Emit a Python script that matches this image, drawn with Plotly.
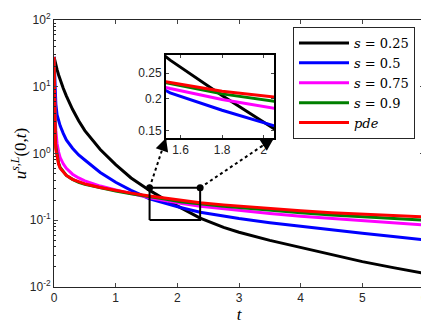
import numpy as np
import plotly.graph_objects as go

t = [0, 0.01, 0.02, 0.03, 0.05, 0.075, 0.1, 0.15, 0.2, 0.3, 0.4, 0.5, 0.75, 1.0, 1.25,
     1.55, 1.8, 2.05, 2.37, 2.75, 3.0, 3.5, 4.0, 4.5, 5.0, 5.5, 6.0]

u_s025 = [28, 25, 23, 21, 18, 15, 12.5, 9.5, 7.3, 4.6, 3.1, 2.2, 1.15, 0.68, 0.43,
          0.28, 0.205, 0.153, 0.108, 0.078, 0.066, 0.05, 0.039, 0.031, 0.024, 0.0195, 0.016]
u_s05 = [28, 12, 7.5, 5.5, 3.8, 3.0, 2.6, 2.0, 1.6, 1.2, 0.95, 0.8, 0.52, 0.37, 0.28,
         0.21, 0.18, 0.155, 0.132, 0.115, 0.106, 0.092, 0.081, 0.072, 0.064, 0.057, 0.051]
u_s075 = [28, 6, 3.2, 2.2, 1.4, 1.05, 0.87, 0.7, 0.6, 0.49, 0.43, 0.39, 0.325, 0.285, 0.25,
          0.218, 0.198, 0.179, 0.162, 0.148, 0.14, 0.126, 0.115, 0.106, 0.098, 0.091, 0.085]
u_s09 = [28, 3.5, 1.8, 1.25, 0.9, 0.72, 0.62, 0.53, 0.47, 0.41, 0.37, 0.345, 0.305, 0.275, 0.25,
         0.228, 0.208, 0.19, 0.175, 0.162, 0.155, 0.14, 0.129, 0.12, 0.112, 0.106, 0.1]
u_pde = [28, 3.0, 1.6, 1.15, 0.85, 0.69, 0.6, 0.52, 0.47, 0.41, 0.375, 0.35, 0.31, 0.28, 0.255,
         0.23, 0.213, 0.197, 0.183, 0.17, 0.163, 0.15, 0.139, 0.13, 0.123, 0.117, 0.112]

series = [
    ("<i>s</i> = 0.25", u_s025, "#000000"),
    ("<i>s</i> = 0.5", u_s05, "#0000FF"),
    ("<i>s</i> = 0.75", u_s075, "#FF00FF"),
    ("<i>s</i> = 0.9", u_s09, "#008000"),
    ("<i>pde</i>", u_pde, "#FF0000"),
]

x_ticks = [0, 1, 2, 3, 4, 5, 6]
x_ticktext = ["0", "1", "2", "3", "4", "5", "6"]
y_ticks = [0.01, 0.1, 1, 10, 100]
y_ticktext = ["10<sup>-2</sup>", "10<sup>-1</sup>", "10<sup>0</sup>", "10<sup>1</sup>", "10<sup>2</sup>"]
inset_xticks = [1.6, 1.8, 2.0]
inset_xtext = ["1.6", "1.8", "2"]
inset_yticks = [0.15, 0.2, 0.25]
inset_ytext = ["0.15", "0.2", "0.25"]

# zoom box on main axes and inset ranges
box_t = [1.55, 2.37]
box_u = [0.101, 0.307]
inset_xrange = [1.53, 2.05]
inset_urange = [0.141, 0.293]

minor_vals = [m * 10.0 ** e for e in range(-2, 2) for m in range(2, 10)]

fig = go.Figure()
for name, ys, col in series:
    fig.add_trace(go.Scatter(x=t, y=ys, mode="lines", name=name,
                             line=dict(color=col, width=3), xaxis="x", yaxis="y"))

# zoom rectangle and its corner dots
fig.add_trace(go.Scatter(x=[box_t[0], box_t[1], box_t[1], box_t[0], box_t[0]],
                         y=[box_u[0], box_u[0], box_u[1], box_u[1], box_u[0]],
                         mode="lines", showlegend=False, line=dict(color="black", width=2),
                         xaxis="x", yaxis="y"))
fig.add_trace(go.Scatter(x=box_t, y=[box_u[1], box_u[1]], mode="markers", showlegend=False,
                         marker=dict(color="black", size=7), xaxis="x", yaxis="y"))

for name, ys, col in series:
    fig.add_trace(go.Scatter(x=t, y=ys, mode="lines", name=name, showlegend=False,
                             line=dict(color=col, width=3), xaxis="x2", yaxis="y2"))

axis_font = dict(family="Liberation Sans, Arial, sans-serif", size=12, color="#262626")
# page offset of the plot div (browser body margin)
OFF = 8
W, H = 429 - OFF, 333 - OFF
# desired plot area in page pixels
PX0, PX1, PY0, PY1 = 54, 424, 20, 287
L, T = PX0 - OFF, PY0 - OFF
R = (W + OFF) - PX1
B = (H + OFF) - PY1
pw, ph = PX1 - PX0, PY1 - PY0

# inset position in paper coords
ix0, ix1 = (166 - PX0) / pw, (274 - PX0) / pw
iy0, iy1 = (PY1 - 138) / ph, (PY1 - 55) / ph

fig.update_layout(
    width=W, height=H,
    margin=dict(l=L, r=R, t=T, b=B, autoexpand=False),
    paper_bgcolor="white", plot_bgcolor="white",
    showlegend=True,
    legend=dict(x=(293 - PX0) / pw, y=(PY1 - 27) / ph, xanchor="left", yanchor="top",
                bgcolor="white", bordercolor="#262626", borderwidth=1,
                font=dict(family="DejaVu Serif, serif", size=13, color="black"),
                itemwidth=50, tracegroupgap=0),
    xaxis=dict(domain=[0, 1], range=[0, 6.0001], tickvals=x_ticks, ticktext=x_ticktext,
               ticks="inside", ticklen=4,
               showline=True, linecolor="#262626", linewidth=1, mirror="ticks",
               showgrid=False, zeroline=False, tickfont=axis_font, automargin=False,
               ticklabeloverflow="allow",
               title=dict(text="<i>t</i>", font=dict(family="Liberation Serif, serif", size=17, color="black"),
                          standoff=2)),
    yaxis=dict(domain=[0, 1], type="log", range=[-2, 2], tickvals=y_ticks, ticktext=y_ticktext,
               ticks="inside", ticklen=4, showline=True, linecolor="#262626", linewidth=1,
               mirror="ticks", showgrid=False, zeroline=False, tickfont=axis_font, automargin=False,
               ticklabeloverflow="allow",
               minor=dict(tickvals=minor_vals, ticks="inside", ticklen=2, tickcolor="#262626", showgrid=False),
               title=dict(text="<i>u</i><sup><i>s,L</i></sup>(0,<i>t</i>)",
                          font=dict(family="Liberation Serif, serif", size=17, color="black"),
                          standoff=2)),
    xaxis2=dict(domain=[ix0, ix1], anchor="y2", range=inset_xrange, tickvals=inset_xticks,
                ticktext=inset_xtext, ticks="inside", ticklen=3, showline=True, linecolor="black",
                linewidth=2, mirror="ticks", showgrid=False, zeroline=False, tickfont=axis_font,
                automargin=False),
    yaxis2=dict(domain=[iy0, iy1], anchor="x2", type="log",
                range=[np.log10(inset_urange[0]), np.log10(inset_urange[1])],
                tickvals=inset_yticks, ticktext=inset_ytext, ticks="inside", ticklen=3,
                showline=True, linecolor="black", linewidth=2, mirror="ticks",
                showgrid=False, zeroline=False, tickfont=axis_font, automargin=False),
)

# dotted connectors from box corners to inset corners
cy = (np.log10(box_u[1]) + 2) / 4
for bx, (ex, ey) in zip(box_t, [(ix0, iy0), (ix1, iy0)]):
    sx = bx / 6
    fig.add_shape(type="line", xref="paper", yref="paper", x0=sx, y0=cy, x1=ex, y1=ey,
                  line=dict(color="black", width=2, dash="dot"))
    dxp = (ex - sx) * pw
    dyp = (ey - cy) * ph
    n = np.hypot(dxp, dyp)
    fig.add_annotation(x=ex, y=ey, xref="paper", yref="paper", text="", showarrow=True,
                       arrowhead=2, arrowsize=1.3, arrowwidth=2, arrowcolor="black",
                       ax=-dxp / n * 12, ay=dyp / n * 12, standoff=0)

fig.write_html("out.html")
